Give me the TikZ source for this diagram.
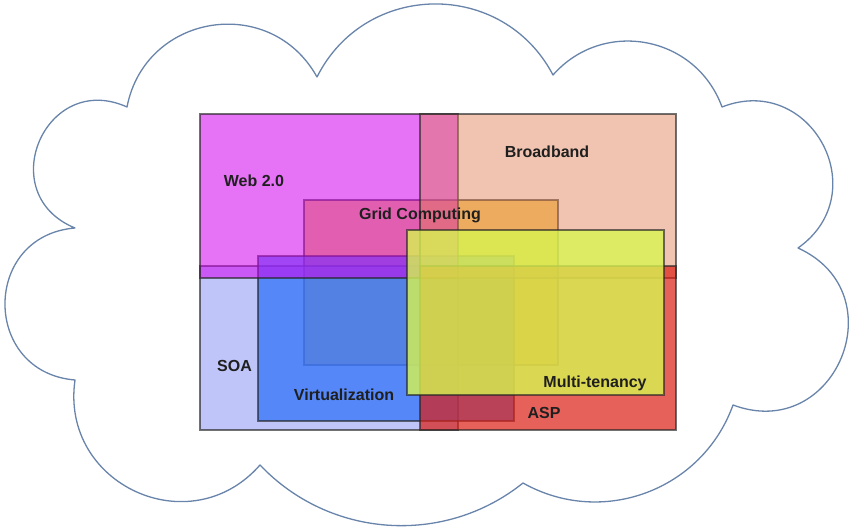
\documentclass[tikz,border=0pt]{standalone}
\usepackage{fontspec}
\setmainfont{Liberation Sans}
\definecolor{cloudC}{RGB}{105,132,170}
\definecolor{webC}{RGB}{210,0,240}
\definecolor{bbC}{RGB}{225,125,85}
\definecolor{soaC}{RGB}{130,140,245}
\definecolor{aspC}{RGB}{220,30,20}
\definecolor{gridC}{RGB}{240,180,0}
\definecolor{virtC}{RGB}{40,110,250}
\definecolor{mtC}{RGB}{215,245,80}
\begin{document}
\begin{tikzpicture}[x=1pt,y=1pt,
  box/.style={draw=black!85, draw opacity=0.65, line width=1.1pt},
  lbl/.style={anchor=base, font=\fontsize{16}{19}\selectfont\bfseries, text=black!88, inner sep=0pt},
  cloudline/.style={draw=cloudC, line width=1.3pt, line join=round}]
\useasboundingbox (0,0) rectangle (850,529);
\fill[white] (0,0) rectangle (850,529);
% cloud
\draw[cloudline] (127,422)
  .. controls +(79:95.6) and +(119:95.6) .. (317,452)
  .. controls +(63.3:108) and +(117.7:108) .. (553,454)
  .. controls +(48.6:76) and +(110:76) .. (722,422)
  .. controls +(21.4:95.4) and +(35.2:95.4) .. (798,281)
  .. controls +(-24.5:109.4) and +(-20.5:109.4) .. (733,124)
  .. controls +(-109.8:90.8) and +(-29.4:90.8) .. (523,46)
  .. controls +(218.7:101.1) and +(313.5:101.1) .. (260,64)
  .. controls +(228.8:105.7) and +(261.8:105.7) .. (75,149)
  .. controls +(175.3:93.7) and +(184.7:93.7) .. (75,301)
  .. controls +(157.7:89.4) and +(155.7:89.4) .. (127,422) -- cycle;
% rectangles (layer order matters)
\path[box, fill=gridC, fill opacity=0.6] (304,164) rectangle (558,329);
\path[box, fill=soaC, fill opacity=0.5] (200,99) rectangle (458,263);
\path[box, fill=virtC, fill opacity=0.7] (258,108) rectangle (514,273);
\path[box, fill=webC, fill opacity=0.55] (200,251) rectangle (458,415);
\path[box, fill=bbC, fill opacity=0.45] (420,251) rectangle (676,415);
\path[box, fill=aspC, fill opacity=0.7] (420,99) rectangle (676,263);
\path[box, fill=mtC, fill opacity=0.8] (407,134) rectangle (664,299);
% labels
\node[lbl] (web) at (254,342) {Web 2.0};
\node[lbl] (bb) at (547,371) {Broadband};
\node[lbl] (grid) at (420,309) {Grid Computing};
\node[lbl] (soa) at (234.5,157) {SOA};
\node[lbl] (virt) at (344,128) {Virtualization};
\node[lbl] (mt) at (595,141) {Multi-tenancy};
\node[lbl] (asp) at (544,110) {ASP};
\end{tikzpicture}
\end{document}
